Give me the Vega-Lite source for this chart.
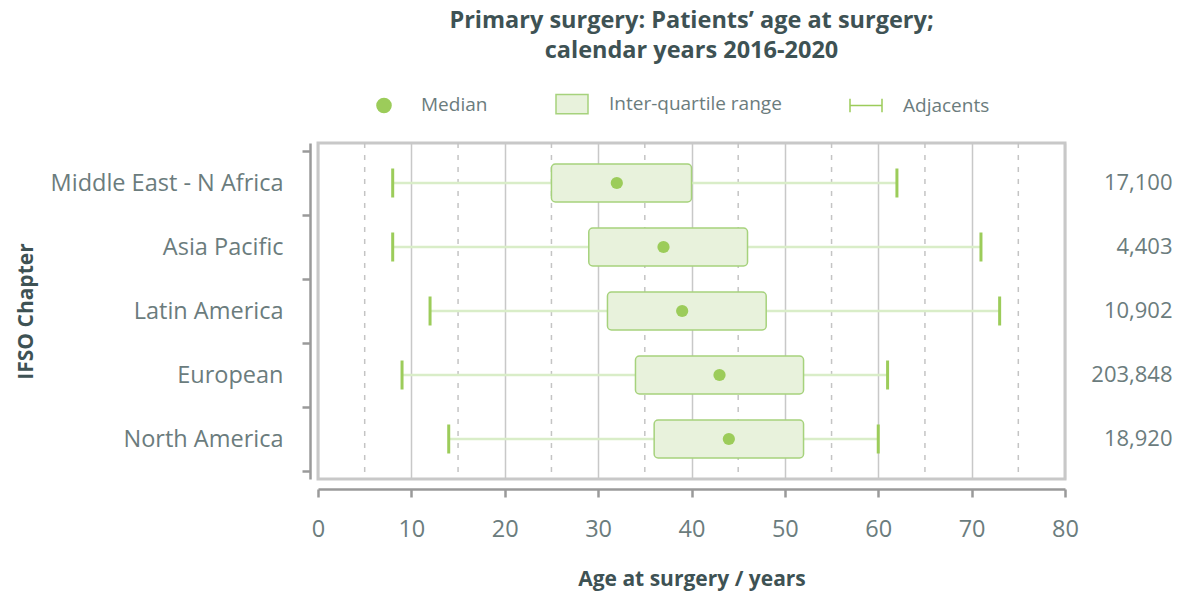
{
  "$schema": "https://vega.github.io/schema/vega-lite/v6.json",
  "width": 747,
  "height": 336,
  "autosize": {"type": "none"},
  "padding": {"left": 318, "top": 143, "right": 122, "bottom": 116},
  "background": "white",
  "title": {
    "text": ["Primary surgery: Patients’ age at surgery;", "calendar years 2016-2020"],
    "font": "Open Sans",
    "fontSize": 23.5,
    "fontWeight": "bold",
    "color": "#3e5254",
    "anchor": "middle",
    "frame": "group",
    "lineHeight": 30,
    "offset": 25
  },
  "config": {
    "font": "Open Sans",
    "view": {"stroke": "#c8c8c8", "strokeWidth": 3}
  },
  "datasets": {
    "stats": [
      {"chapter": "Middle East - N Africa", "low": 8, "q1": 25, "median": 32, "q3": 40, "high": 62, "n": 17100},
      {"chapter": "Asia Pacific", "low": 8, "q1": 29, "median": 37, "q3": 46, "high": 71, "n": 4403},
      {"chapter": "Latin America", "low": 12, "q1": 31, "median": 39, "q3": 48, "high": 73, "n": 10902},
      {"chapter": "European", "low": 9, "q1": 34, "median": 43, "q3": 52, "high": 61, "n": 203848},
      {"chapter": "North America", "low": 14, "q1": 36, "median": 44, "q3": 52, "high": 60, "n": 18920}
    ],
    "minorgrid": [
      {"g": 5}, {"g": 15}, {"g": 25}, {"g": 35}, {"g": 45}, {"g": 55}, {"g": 65}, {"g": 75}
    ],
    "legend": [
      {"item": "Median"}, {"item": "Inter-quartile range"}, {"item": "Adjacents"}
    ]
  },
  "layer": [
    {
      "layer": [
        {
          "data": {"name": "minorgrid"},
          "mark": {"type": "rule", "color": "#c4c4c4", "strokeWidth": 1.5, "strokeDash": [5, 7]},
          "encoding": {
            "x": {"field": "g", "type": "quantitative", "scale": {"domain": [0, 80], "nice": false}}
          }
        },
        {
          "data": {"name": "stats"},
          "mark": {"type": "rule", "color": "#d9edc8", "strokeWidth": 2.5},
          "encoding": {
            "y": {"field": "chapter", "type": "nominal", "sort": null},
            "x": {"field": "low", "type": "quantitative"},
            "x2": {"field": "high"}
          }
        },
        {
          "data": {"name": "stats"},
          "mark": {"type": "bar", "fill": "#e8f2dc", "stroke": "#a6d27c", "strokeWidth": 1.5, "cornerRadius": 4, "height": {"band": 0.59}},
          "encoding": {
            "y": {
              "field": "chapter", "type": "nominal", "sort": null,
              "scale": {"paddingInner": 0, "paddingOuter": 0.125},
              "axis": {
                "title": "IFSO Chapter",
                "offset": 8,
                "domainColor": "#9a9a9a",
                "domainWidth": 2.5,
                "tickColor": "#9a9a9a",
                "tickWidth": 2.5,
                "tickSize": 8,
                "tickBand": "extent",
                "labelFontSize": 23.5,
                "labelLimit": 400,
                "labelColor": "#6b7c7d",
                "labelPadding": 19,
                "titleFontSize": 21,
                "titleFontWeight": "bold",
                "titleColor": "#3e5254",
                "titlePadding": 74
              }
            },
            "x": {
              "field": "q1", "type": "quantitative",
              "scale": {"domain": [0, 80], "nice": false},
              "axis": {
                "title": "Age at surgery / years",
                "values": [0, 10, 20, 30, 40, 50, 60, 70, 80],
                "offset": 10,
                "domainColor": "#9a9a9a",
                "domainWidth": 2.5,
                "tickColor": "#9a9a9a",
                "tickWidth": 2.5,
                "tickSize": 8,
                "grid": true,
                "gridColor": "#c8c8c8",
                "gridWidth": 1.5,
                "labelFlush": false,
                "labelFontSize": 23.5,
                "labelColor": "#6b7c7d",
                "labelPadding": 20,
                "titleFontSize": 21,
                "titleFontWeight": "bold",
                "titleColor": "#3e5254",
                "titlePadding": 28
              }
            },
            "x2": {"field": "q3"}
          }
        },
        {
          "data": {"name": "stats"},
          "mark": {"type": "tick", "color": "#9ccc5a", "thickness": 3, "size": 29, "opacity": 1},
          "encoding": {
            "y": {"field": "chapter", "type": "nominal", "sort": null},
            "x": {"field": "low", "type": "quantitative"}
          }
        },
        {
          "data": {"name": "stats"},
          "mark": {"type": "tick", "color": "#9ccc5a", "thickness": 3, "size": 29, "opacity": 1},
          "encoding": {
            "y": {"field": "chapter", "type": "nominal", "sort": null},
            "x": {"field": "high", "type": "quantitative"}
          }
        },
        {
          "data": {"name": "stats"},
          "mark": {"type": "point", "filled": true, "color": "#9ccc5a", "size": 150, "opacity": 1},
          "encoding": {
            "y": {"field": "chapter", "type": "nominal", "sort": null},
            "x": {"field": "median", "type": "quantitative"}
          }
        },
        {
          "data": {"name": "legend"},
          "mark": {"type": "point", "opacity": 0, "strokeWidth": 2},
          "encoding": {
            "shape": {
              "field": "item", "type": "nominal",
              "scale": {
                "domain": ["Median", "Inter-quartile range", "Adjacents"],
                "range": [
                  "M0.44,0A0.44,0.44,0,1,1,-0.44,0A0.44,0.44,0,1,1,0.44,0Z",
                  "M-1,-0.6H1V0.6H-1Z",
                  "M-1,0H1M-1,-0.42V0.42M1,-0.42V0.42"
                ]
              },
              "legend": {
                "title": null,
                "orient": "none",
                "legendX": 49,
                "legendY": -56,
                "direction": "horizontal",
                "symbolSize": 1024,
                "symbolStrokeWidth": 1.5,
                "symbolOpacity": 1,
                "labelFontSize": 19,
                "labelLimit": 400,
                "labelColor": "#6b7c7d",
                "labelOffset": 20,
                "columnPadding": 65,
                "encode": {"symbols": {"update": {"opacity": {"value": 1}}}}
              }
            },
            "fill": {
              "field": "item", "type": "nominal",
              "scale": {"domain": ["Median", "Inter-quartile range", "Adjacents"], "range": ["#9ccc5a", "#e8f2dc", "transparent"]},
              "legend": {"title": null}
            },
            "stroke": {
              "field": "item", "type": "nominal",
              "scale": {"domain": ["Median", "Inter-quartile range", "Adjacents"], "range": ["#9ccc5a", "#a6d27c", "#9ccc5a"]},
              "legend": {"title": null}
            }
          }
        }
      ]
    },
    {
      "data": {"name": "stats"},
      "mark": {"type": "point", "opacity": 0},
      "encoding": {
        "y": {
          "field": "n", "type": "nominal", "sort": null,
          "scale": {"type": "band", "paddingInner": 0, "paddingOuter": 0.125},
          "axis": {
            "orient": "right",
            "title": null,
            "domain": false,
            "ticks": false,
            "labelExpr": "format(datum.value, ',')",
            "labelAlign": "right",
            "labelFontSize": 22,
            "labelColor": "#6b7c7d",
            "labelPadding": 107
          }
        }
      }
    }
  ],
  "resolve": {"scale": {"y": "independent"}}
}
